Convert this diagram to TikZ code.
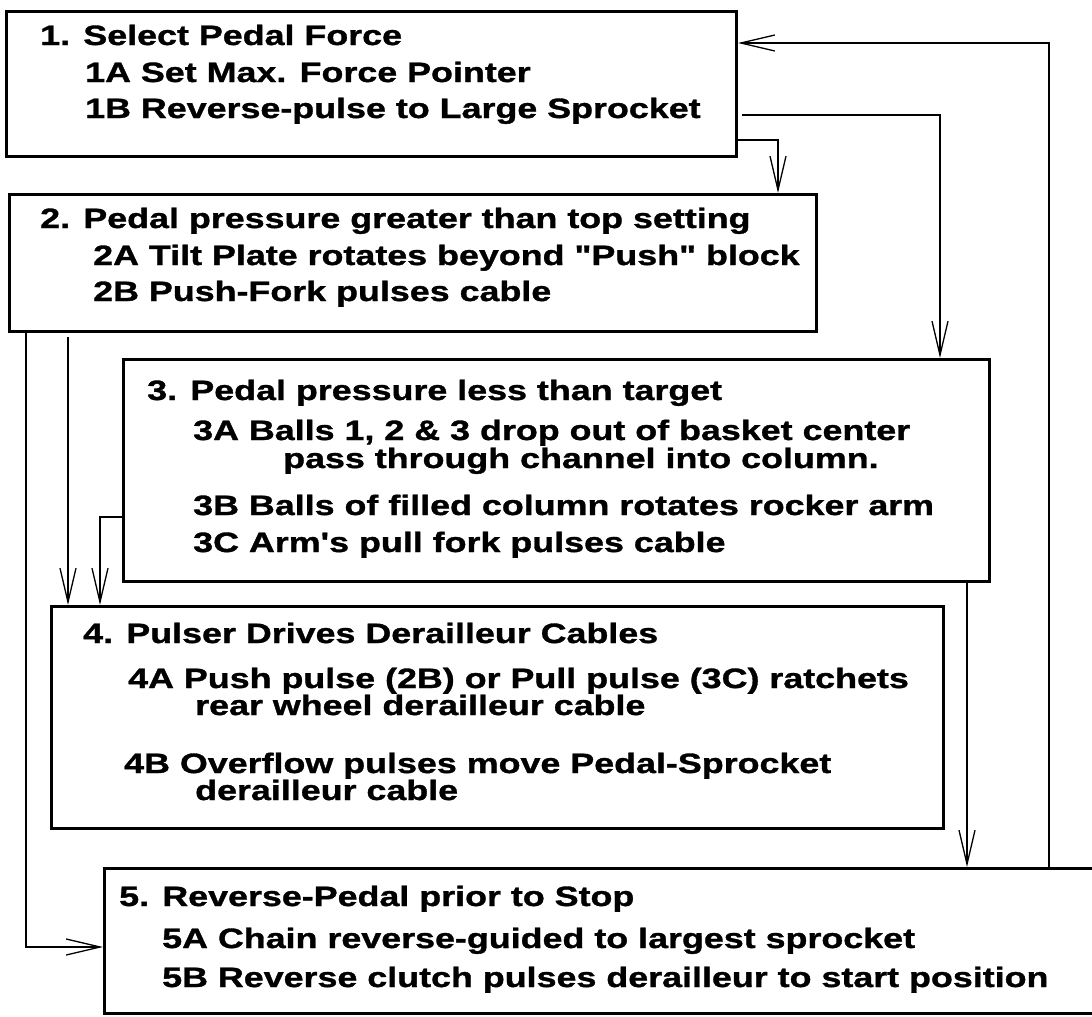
\documentclass[tikz,border=0pt]{standalone}
\usepackage{fontspec}
\newfontfamily\boxfont{Liberation Sans}[FakeStretch=1.28,BoldFeatures={FakeBold=1.2}]
\usetikzlibrary{arrows.meta}
\tikzset{
  blk/.style={draw,line width=3pt,anchor=north west,inner sep=0pt},
  txt/.style={anchor=base west,inner sep=0pt,font=\boxfont\bfseries\fontsize{28}{30}\selectfont},
  arr/.style={-{Straight Barb[length=34pt,width=16pt]},line width=1.3pt},
}
\begin{document}
\begin{tikzpicture}[x=1pt,y=-1pt]
  \useasboundingbox (0,0) rectangle (1092,1017);
  % boxes
  \node[blk,minimum width=730pt,minimum height=145pt]  (b1) at (5,10)   {};
  \node[blk,minimum width=807pt,minimum height=137pt]  (b2) at (8,193)  {};
  \node[blk,minimum width=866pt,minimum height=222pt]  (b3) at (122,358) {};
  \node[blk,minimum width=892pt,minimum height=222pt]  (b4) at (50,605) {};
  \node[blk,minimum width=1010pt,minimum height=145pt] (b5) at (103,867) {};
  % box texts
  \node[txt] (t1)  at (40,45)   {1. Select Pedal Force};
  \node[txt] (t1a) at (85,82)   {1A Set Max. Force Pointer};
  \node[txt] (t1b) at (85,118)  {1B Reverse-pulse to Large Sprocket};
  \node[txt] (t2)  at (40,228)  {2. Pedal pressure greater than top setting};
  \node[txt] (t2a) at (93,265)  {2A Tilt Plate rotates beyond "Push" block};
  \node[txt] (t2b) at (93,301)  {2B Push-Fork pulses cable};
  \node[txt] (t3)  at (147,400) {3. Pedal pressure less than target};
  \node[txt] (t3a) at (193,440) {3A Balls 1, 2 \& 3 drop out of basket center};
  \node[txt] (t3p) at (283,468) {pass through channel into column.};
  \node[txt] (t3b) at (193,515) {3B Balls of filled column rotates rocker arm};
  \node[txt] (t3c) at (193,552) {3C Arm's pull fork pulses cable};
  \node[txt] (t4)  at (83,643)  {4. Pulser Drives Derailleur Cables};
  \node[txt] (t4a) at (128,688) {4A Push pulse (2B) or Pull pulse (3C) ratchets};
  \node[txt] (t4r) at (195,715) {rear wheel derailleur cable};
  \node[txt] (t4b) at (124,773) {4B Overflow pulses move Pedal-Sprocket};
  \node[txt] (t4d) at (195,800) {derailleur cable};
  \node[txt] (t5)  at (119,906) {5. Reverse-Pedal prior to Stop};
  \node[txt] (t5a) at (162,948) {5A Chain reverse-guided to largest sprocket};
  \node[txt] (t5b) at (162,987) {5B Reverse clutch pulses derailleur to start position};
  % bends of the connectors
  \coordinate (k12) at (778,140);
  \coordinate (k13) at (940,115);
  \coordinate (k51) at (1049,43);
  \coordinate (k25) at (26,947);
  \coordinate (k24) at (68,337);
  \coordinate (k34) at (100,517);
  \coordinate (k35) at (967,0);
  % connectors
  \draw[arr] (b1.east |- k12) -- (k12) -- (b2.north -| k12);
  \draw[arr] ([xshift=4pt]b1.east |- k13) -- (k13) -- (b3.north -| k13);
  \draw[arr] (b5.north -| k51) -- (k51) -- (b1.east |- k51);
  \draw[arr] (b2.south -| k25) -- (k25) -- (b5.west |- k25);
  \draw[arr] (k24) -- (b4.north -| k24);
  \draw[arr] (b3.west |- k34) -- (k34) -- (b4.north -| k34);
  \draw[arr] (b3.south -| k35) -- (b5.north -| k35);
\end{tikzpicture}
\end{document}
